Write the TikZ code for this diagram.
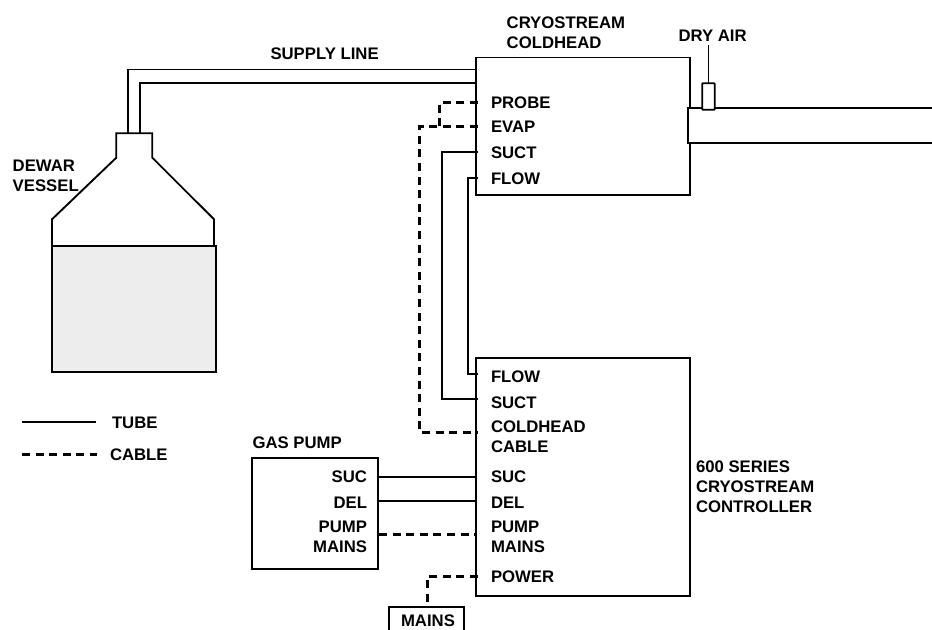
\documentclass[tikz,border=0pt]{standalone}
\usepackage{fontspec}
\setmainfont{Liberation Sans}
\newcommand{\pxunit}{0.75pt}
\tikzset{
  x=0.75pt,y=-0.75pt,
  boxnode/.style={draw=black,line width=1.4pt,rectangle,inner sep=0pt,outer sep=0pt},
  tube/.style={draw=black,line width=1.4pt,line join=miter},
  cable/.style={draw=black,line width=2pt,dash pattern=on 6pt off 4.2pt},
  lab/.style={font=\bfseries\fontsize{12.55}{15.3}\selectfont,inner sep=0pt,outer sep=0pt,anchor=north west,align=left,text=black},
  labr/.style={lab,anchor=north east,align=right},
}
\begin{document}
\begin{tikzpicture}
\useasboundingbox (0,0) rectangle (932,630);
\clip (0,0) rectangle (932,630);
% boxes
\node[boxnode,minimum width=214*\pxunit,minimum height=137.8*\pxunit] (coldhead) at (583.3,126.4) {};
\node[boxnode,minimum width=214*\pxunit,minimum height=238*\pxunit] (controller) at (583.3,476.7) {};
\node[boxnode,minimum width=126*\pxunit,minimum height=111.6*\pxunit] (gaspump) at (315.3,513.5) {};
\node[boxnode,minimum width=75*\pxunit,minimum height=40*\pxunit] (mainsbox) at (426.5,627.3) {};
\node[boxnode,fill=black!7,minimum width=164*\pxunit,minimum height=126.5*\pxunit] (liquid) at (134,309) {};
% vessel
\coordinate (neckA) at (128.3,133.3);
\coordinate (neckB) at (140,133.3);
\draw[tube] (52,245.3) -- (52,219.3) -- (116.3,157.7) -- (116.3,133.3) -- (152.3,133.3) -- (152.3,157.7) -- (214,219.3) -- (214,245.3);
% supply line
\coordinate (headA) at (476.3,69.5);
\coordinate (headB) at (476.3,83.3);
\draw[tube] (neckA) |- (headA);
\draw[tube] (neckB) |- (headB);
% outlet tube and dry air
\coordinate (outA) at (932,107.7);
\coordinate (outB) at (932,143.3);
\filldraw[tube,fill=white] (outA) -- (688.3,107.7) -- (688.3,143.3) -- (outB);
\node[boxnode,fill=white,rounded corners=0.5pt,minimum width=12.4*\pxunit,minimum height=26.4*\pxunit] (airport) at (708.5,96.5) {};
\coordinate (airtop) at (708.5,45);
\draw[tube] (airtop) -- (airport.north);
% connector ends
\coordinate (pProbe) at (478,102.5);
\coordinate (pEvap) at (478,126.5);
\coordinate (pSuctA) at (478,152);
\coordinate (pFlowA) at (478,177.7);
\coordinate (pFlowB) at (478,374);
\coordinate (pSuctB) at (478,399.3);
\coordinate (pCold) at (478,432.3);
\coordinate (pSucB) at (476.3,477.3);
\coordinate (pDelB) at (476.3,501.3);
\coordinate (pMainsB) at (476.3,534.3);
\coordinate (pPower) at (478,576.7);
\coordinate (pSucA) at (376.5,477.3);
\coordinate (pDelA) at (376.5,501.3);
\coordinate (pMainsA) at (379,534.3);
\coordinate (mainsTop) at (427.3,607.3);
% tubes
\draw[tube] (pSuctA) -- (442.3,152) -- (442.3,399.3) -- (pSuctB);
\draw[tube] (pFlowA) -- (468.3,177.7) -- (468.3,374) -- (pFlowB);
\draw[tube] (pSucA) -- (pSucB);
\draw[tube] (pDelA) -- (pDelB);
% cables
\draw[cable] (pProbe) -- (439.3,102.5) -- (439.3,126.5);
\draw[cable] (pEvap) -- (419.3,126.5) -- (419.3,432.3) -- (pCold);
\draw[cable] (pMainsA) -- (pMainsB);
\draw[cable] (pPower) -| (mainsTop);
% legend
\coordinate (legTa) at (22,421.7);
\coordinate (legTb) at (96,421.7);
\coordinate (legCa) at (22,454.3);
\coordinate (legCb) at (97,454.3);
\draw[tube] (legTa) -- (legTb);
\draw[cable] (legCa) -- (legCb);
% labels
\node[lab] (tSupply) at (270.5,47.5) {SUPPLY LINE};
\node[lab] (tCold) at (506.7,16.5) {CRYOSTREAM\\COLDHEAD};
\node[lab] (tDry) at (678.5,29.5) {DRY AIR};
\node[lab] (tDewar) at (12.7,159.5) {DEWAR\\VESSEL};
\node[lab] (tProbe) at (491,97) {PROBE};
\node[lab] (tEvap) at (491,121) {EVAP};
\node[lab] (tSuctA) at (491,147) {SUCT};
\node[lab] (tFlowA) at (491,172.5) {FLOW};
\node[lab] (tFlowB) at (491,370.5) {FLOW};
\node[lab] (tSuctB) at (491,396.5) {SUCT};
\node[lab] (tColdB) at (491,420.5) {COLDHEAD\\CABLE};
\node[lab] (tSucB) at (491,471) {SUC};
\node[lab] (tDelB) at (491,497) {DEL};
\node[lab] (tPumpB) at (491,520.5) {PUMP\\MAINS};
\node[lab] (tPower) at (491,571) {POWER};
\node[lab] (tCtrl) at (696,460.5) {600 SERIES\\CRYOSTREAM\\CONTROLLER};
\node[lab] (tGas) at (252.5,436.5) {GAS PUMP};
\node[labr] (tSucA) at (367,471) {SUC};
\node[labr] (tDelA) at (367,497) {DEL};
\node[labr] (tPumpA) at (367,520.5) {PUMP\\MAINS};
\node[lab] (tTube) at (112,416.5) {TUBE};
\node[lab] (tCable) at (110,448.5) {CABLE};
\node[lab] (tMains) at (401,614.5) {MAINS};
\end{tikzpicture}
\end{document}
